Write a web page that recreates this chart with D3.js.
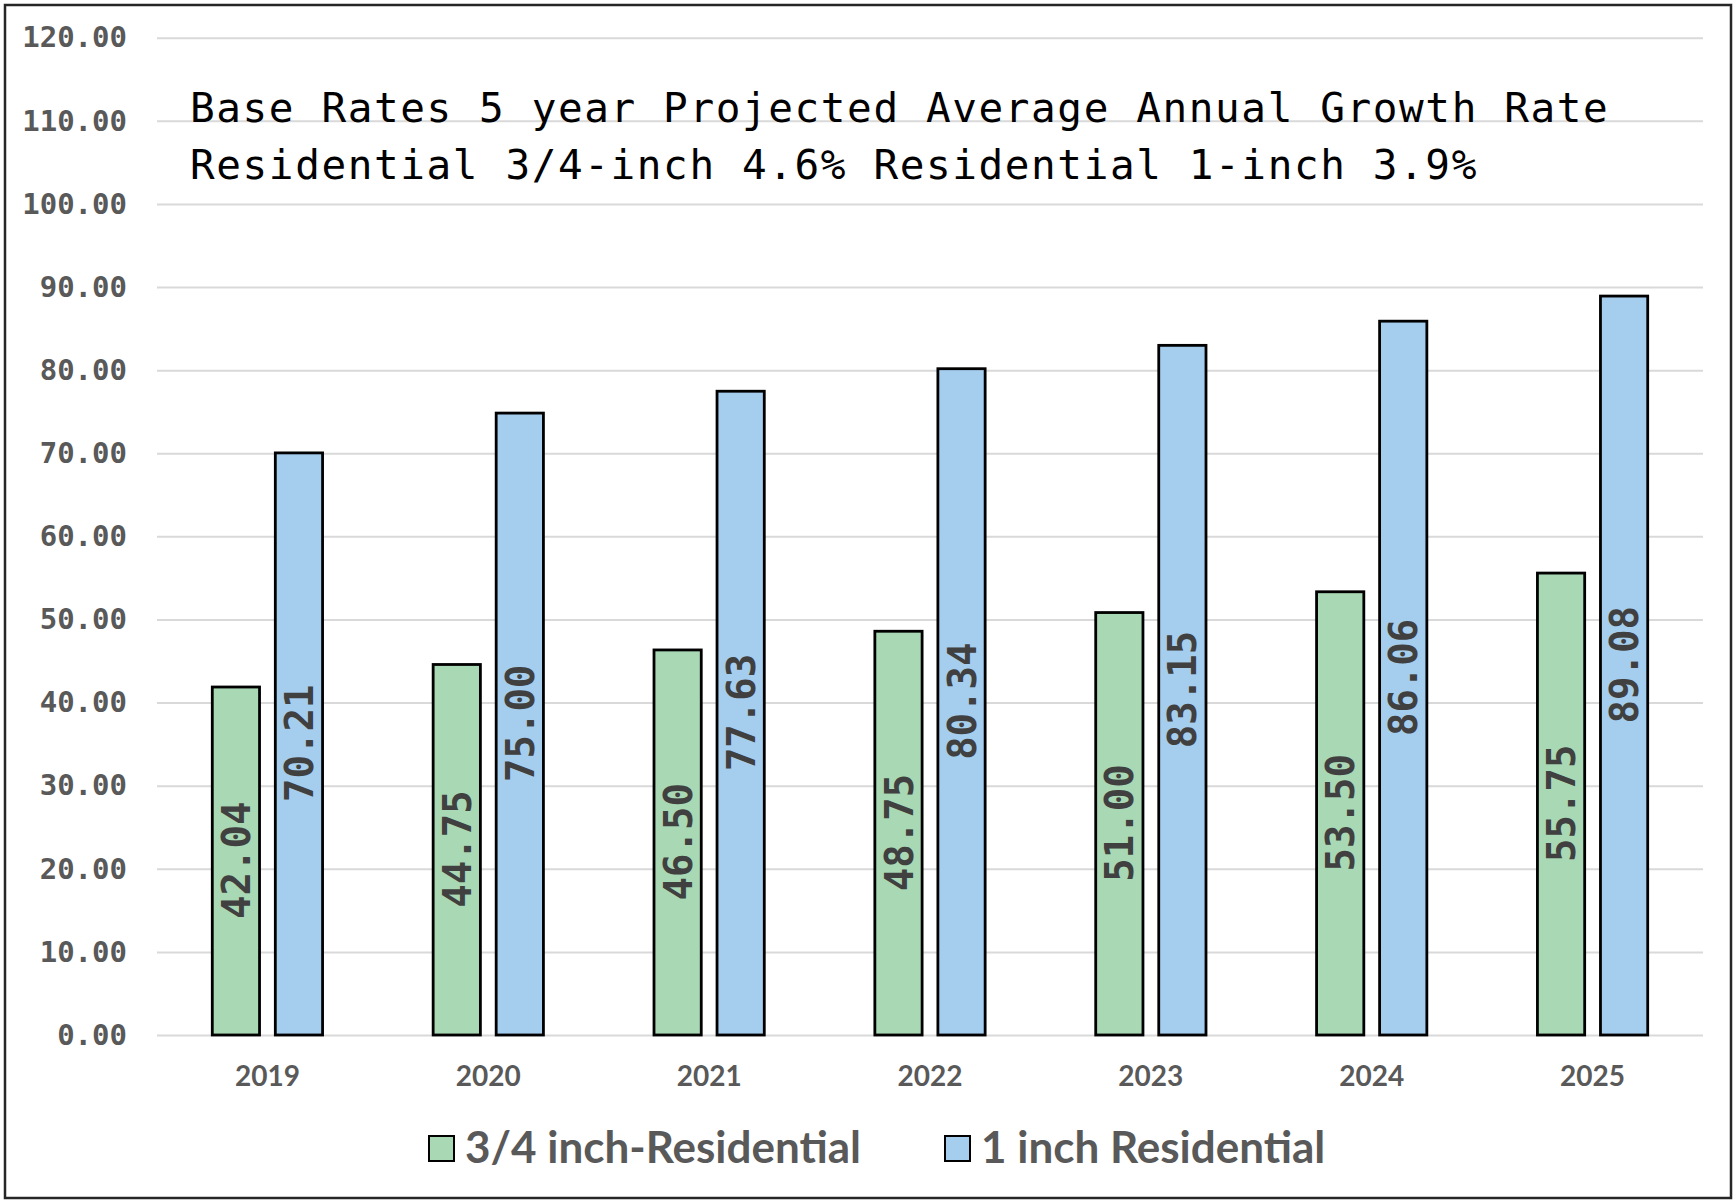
<!DOCTYPE html>
<html>
<head>
<meta charset="utf-8">
<script src="https://cdn.jsdelivr.net/npm/d3@7"></script>
<style>
  html, body { margin: 0; padding: 0; background: #fff; }
  svg { display: block; }
</style>
</head>
<body>
<svg id="chart" width="1735" height="1202"></svg>
<script>
const categories = ["2019", "2020", "2021", "2022", "2023", "2024", "2025"];
const seriesNames = ["3/4 inch-Residential", "1 inch Residential"];
const threeQuarterInch = [42.04, 44.75, 46.50, 48.75, 51.00, 53.50, 55.75];
const oneInch = [70.21, 75.00, 77.63, 80.34, 83.15, 86.06, 89.08];
const yTicks = [0, 10, 20, 30, 40, 50, 60, 70, 80, 90, 100, 110, 120];
const titleLines = [
  "Base Rates 5 year Projected Average Annual Growth Rate",
  "Residential 3/4-inch 4.6% Residential 1-inch 3.9%"
];
const colors = ["#a9d8b4", "#a5cdee"];

const svg = d3.select("#chart");
const W = 1735, H = 1202;
const plot = { left: 157, right: 1703, top: 37.7, bottom: 1035 };

svg.append("rect").attr("x", 0).attr("y", 0).attr("width", W).attr("height", H).attr("fill", "#fff");
svg.append("rect").attr("x", 5).attr("y", 5).attr("width", 1726).attr("height", 1193)
  .attr("fill", "none").attr("stroke", "#262626").attr("stroke-width", 2.5);

const y = d3.scaleLinear().domain([0, 120]).range([plot.bottom, plot.top]);
const x0 = d3.scaleBand().domain(categories).range([plot.left, plot.right]).paddingInner(0.488).paddingOuter(0.244);
const x1 = d3.scaleBand().domain([0, 1]).range([0, x0.bandwidth()]).paddingInner(0.206).paddingOuter(0);

// gridlines
const yAxis = d3.axisLeft(y).tickValues(yTicks).tickFormat(d3.format(".2f"))
  .tickSize(-(plot.right - plot.left)).tickPadding(30);
const gy = svg.append("g").attr("transform", `translate(${plot.left},0)`).call(yAxis);
gy.select(".domain").remove();
gy.selectAll(".tick line").attr("stroke", "#d9d9d9").attr("stroke-width", 2);
gy.selectAll(".tick text")
  .attr("font-family", "'DejaVu Sans Mono', monospace")
  .attr("font-weight", "bold")
  .attr("font-size", 29)
  .attr("fill", "#595959");

// x axis labels
const xAxis = d3.axisBottom(x0).tickSize(0).tickPadding(0);
const gx = svg.append("g").attr("transform", `translate(0,${plot.bottom})`).call(xAxis);
gx.select(".domain").remove();
gx.selectAll(".tick text")
  .attr("y", 51).attr("dy", 0)
  .attr("font-family", "Lato, sans-serif")
  .attr("font-weight", "bold")
  .attr("font-size", 28)
  .attr("fill", "#595959");

// bars
const rows = categories.map((c, i) => ({ cat: c, vals: [threeQuarterInch[i], oneInch[i]] }));
const groups = svg.append("g").selectAll("g").data(rows).join("g")
  .attr("transform", d => `translate(${x0(d.cat)},0)`);

const sw = 2.8;
groups.selectAll("rect").data(d => d.vals.map((v, k) => ({ v, k }))).join("rect")
  .attr("x", d => x1(d.k) + sw / 2)
  .attr("width", x1.bandwidth() - sw)
  .attr("y", d => y(d.v) + sw / 2)
  .attr("height", d => y(0) - y(d.v) - sw / 2)
  .attr("fill", d => colors[d.k])
  .attr("stroke", "#000")
  .attr("stroke-width", sw);

// value labels (rotated, centered in bar)
groups.selectAll("text.val").data(d => d.vals.map((v, k) => ({ v, k }))).join("text")
  .attr("class", "val")
  .attr("transform", d => `translate(${x1(d.k) + x1.bandwidth() / 2},${(y(d.v) + y(0)) / 2}) rotate(-90)`)
  .attr("text-anchor", "middle")
  .attr("dy", "0.36em")
  .attr("font-family", "'DejaVu Sans Mono', monospace")
  .attr("font-weight", "bold")
  .attr("font-size", 39)
  .attr("fill", "#404040")
  .text(d => d.v.toFixed(2));

// title
const title = svg.append("g");
title.selectAll("text").data(titleLines).join("text")
  .attr("x", 190)
  .attr("y", (d, i) => 122 + i * 57)
  .attr("font-family", "'DejaVu Sans Mono', monospace")
  .attr("font-size", 41)
  .attr("letter-spacing", 1.6)
  .attr("fill", "#000")
  .text(d => d);

// legend
const legendItems = [
  { name: seriesNames[0], color: colors[0], x: 428 },
  { name: seriesNames[1], color: colors[1], x: 944 }
];
const lg = svg.append("g").selectAll("g").data(legendItems).join("g")
  .attr("transform", d => `translate(${d.x},1135)`);
lg.append("rect").attr("x", 1).attr("y", 1).attr("width", 25).attr("height", 25)
  .attr("fill", d => d.color).attr("stroke", "#000").attr("stroke-width", 2);
lg.append("text").attr("x", 37).attr("y", 28)
  .attr("font-family", "Lato, sans-serif")
  .attr("font-weight", "bold")
  .attr("font-size", 44)
  .attr("fill", "#595959")
  .text(d => d.name);
</script>
</body>
</html>
